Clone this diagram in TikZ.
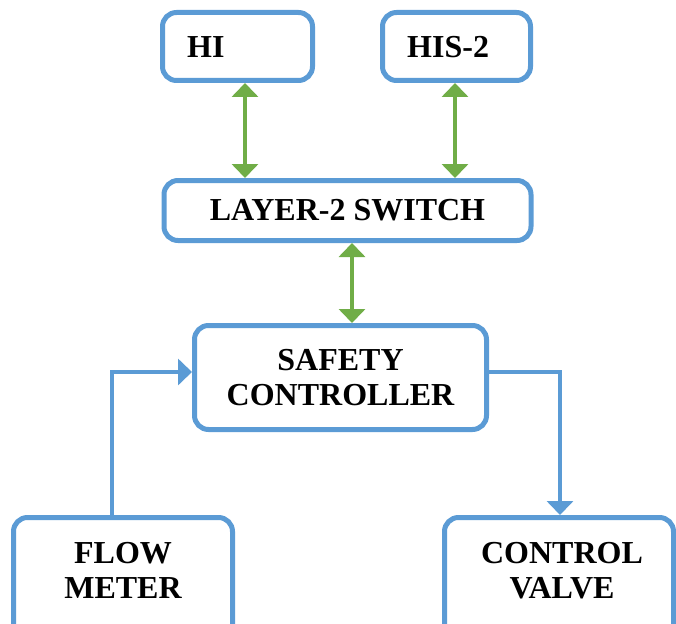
\documentclass[tikz,border=0pt]{standalone}
\usepackage{fontspec}
\setmainfont{Liberation Serif}
\usetikzlibrary{arrows.meta}
\definecolor{boxblue}{HTML}{5B9BD5}
\definecolor{arrgreen}{HTML}{70AD47}
\begin{document}
\begin{tikzpicture}[x=1pt,y=-1pt,
  box/.style={draw=boxblue, line width=5pt, rounded corners=14pt, fill=white, inner sep=0pt},
  lbl/.style={font=\fontsize{32}{35}\selectfont\bfseries, align=center, inner sep=0pt},
  green link/.style={draw=arrgreen, line width=3.5pt, {Triangle[length=14pt,width=26pt]}-{Triangle[length=14pt,width=26pt]}},
  blue link/.style={draw=boxblue, line width=3.5pt, -{Triangle[length=14pt,width=26pt]}}]
\useasboundingbox (0,0) rectangle (676,623);
% top boxes
\node[box, minimum width=150pt, minimum height=68pt] (hi) at (237.5,46.5) {};
\node[lbl, anchor=west] (hit) at (187,47) {HI};
\node[box, minimum width=148pt, minimum height=68pt] (his) at (456.5,46.5) {};
\node[lbl, anchor=west] (hist) at (407,47) {HIS-2};
% switch
\node[box, lbl, minimum width=367pt, minimum height=60pt] (lyr) at (347.5,210.5) {LAYER-2 SWITCH};
% controller
\node[box, lbl, minimum width=292pt, minimum height=104pt] (sc) at (340.5,377.5) {SAFETY\\CONTROLLER};
% bottom boxes
\node[box, minimum width=219pt, minimum height=150pt, anchor=north] (fm) at (123,515) {};
\node[lbl] (fmt) at (123,570.5) {FLOW\\METER};
\node[box, minimum width=229pt, minimum height=150pt, anchor=north] (cv) at (559,515) {};
\node[lbl] (cvt) at (562,570.5) {CONTROL\\VALVE};
% connectors
\draw[green link] (245,0 |- hi.south) -- (245,0 |- lyr.north);
\draw[green link] (455,0 |- his.south) -- (455,0 |- lyr.north);
\draw[green link] (352,0 |- lyr.south) -- (352,0 |- sc.north);
\draw[blue link] (112,0 |- fm.north) |- (sc.west |- 0,372);
\draw[blue link] (sc.east |- 0,372) -| (560,0 |- cv.north);
\end{tikzpicture}
\end{document}
